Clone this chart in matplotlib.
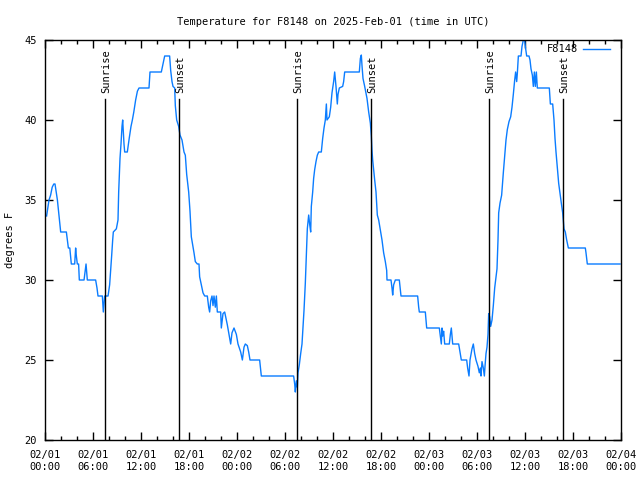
import matplotlib
matplotlib.use("Agg")
import matplotlib.pyplot as plt
from matplotlib.ticker import MultipleLocator, FixedLocator

plt.rcParams['font.family'] = ['DejaVu Sans Mono']

# hours since 2025-02-01 00:00 UTC
hours = [0.2, 0.35, 0.5, 0.7, 0.9, 1.1, 1.25, 1.4, 1.55, 1.75, 1.96, 2.67, 2.8, 2.92, 3.1, 3.29, 3.71, 3.83, 3.92, 4.04,
         4.2, 4.29, 4.88, 5.0, 5.13, 5.29, 6.33, 6.5, 6.625, 7.17, 7.29, 7.38, 7.46, 7.88, 8.08, 8.21, 8.33, 8.46, 8.54, 8.92,
         9.125, 9.21, 9.375, 9.5, 9.625, 9.71, 9.875, 9.96, 10.29, 10.4, 10.54, 10.75, 10.92, 11.1, 11.33, 11.55, 11.75, 13.0, 13.125, 14.54,
         14.75, 14.96, 15.58, 15.71, 15.875, 16.0, 16.21, 16.29, 16.46, 16.71, 16.875, 17.125, 17.375, 17.54, 17.71, 17.96, 18.125, 18.29, 18.46, 18.625,
         18.79, 19.04, 19.25, 19.33, 19.54, 19.75, 19.96, 20.29, 20.46, 20.58, 20.71, 20.875, 21.0, 21.125, 21.29, 21.42, 21.54, 21.96, 22.04, 22.25,
         22.46, 22.67, 22.79, 22.96, 23.21, 23.375, 23.625, 23.92, 24.125, 24.46, 24.67, 24.875, 25.04, 25.29, 25.46, 25.625, 26.83, 27.04, 31.08,
         31.21, 31.29, 31.42, 31.54, 31.625, 31.79, 31.96, 32.125, 32.25, 32.375, 32.54, 32.67, 32.79, 32.96, 33.08, 33.21, 33.29, 33.46, 33.58, 33.71,
         33.875, 34.04, 34.21, 34.54, 34.71, 34.875, 35.04, 35.17, 35.25, 35.54, 35.71, 35.875, 36.08, 36.21, 36.375, 36.54, 36.625, 36.79, 37.21, 37.33,
         37.46, 39.29, 39.42, 39.54, 39.625, 39.75, 39.96, 40.25, 40.46, 40.67, 40.79, 40.875, 40.96, 41.21, 41.375, 41.54, 41.71, 41.92, 42.125, 42.33,
         42.54, 42.71, 42.75, 43.25, 43.375, 43.46, 43.58, 43.79, 44.29, 44.5, 46.58, 46.71, 46.79, 47.54, 47.71, 49.29, 49.42, 49.54, 49.625, 49.71,
         49.83, 49.96, 50.54, 50.67, 50.79, 50.96, 51.71, 51.875, 52.04, 52.71, 52.83, 53.0, 53.125, 53.375, 53.54, 53.71, 53.875, 54.125, 54.29, 54.42,
         54.5, 54.625, 54.79, 54.92, 55.0, 55.125, 55.25, 55.375, 55.46, 55.58, 55.71, 55.875, 56.04, 56.21, 56.375, 56.5, 56.625, 56.71, 56.875,
         57.08, 57.29, 57.46, 57.625, 57.79, 58.0, 58.21, 58.375, 58.54, 58.71, 58.83, 58.96, 59.04, 59.17, 59.5, 59.625, 59.79, 59.92, 60.04, 60.21,
         60.5, 60.625, 60.75, 60.92, 61.04, 61.17, 61.29, 61.42, 61.54, 63.04, 63.17, 63.46, 63.625, 63.75, 63.875, 64.04, 64.21, 64.375, 64.54, 64.71,
         64.875, 65.04, 65.21, 65.42, 67.54, 67.625, 67.79, 71.875]
temps = [34.0, 34.5, 35.0, 35.3, 35.8, 36.0, 36.0, 35.5, 35.0, 34.0, 33.0, 33.0, 32.5, 32.0, 32.0, 31.0, 31.0, 32.0, 31.5, 31.0,
         31.0, 30.0, 30.0, 30.5, 31.0, 30.0, 30.0, 29.5, 29.0, 29.0, 28.0, 28.5, 29.0, 29.0, 29.7, 30.6, 31.5, 32.5, 33.0, 33.2,
         33.75, 35.5, 37.6, 38.5, 39.6, 40.0, 38.5, 38.0, 38.0, 38.4, 38.9, 39.6, 40.0, 40.5, 41.25, 41.8, 42.0, 42.0, 43.0, 43.0,
         43.5, 44.0, 44.0, 43.1, 42.4, 42.1, 42.0, 40.9, 40.0, 39.6, 39.06, 38.75, 38.0, 37.8, 36.6, 35.5, 34.3, 32.7, 32.2, 31.7,
         31.15, 31.0, 31.0, 30.2, 29.7, 29.2, 29.0, 29.0, 28.3, 28.0, 28.7, 29.0, 28.4, 29.0, 28.3, 29.0, 28.0, 28.0, 27.0, 27.9,
         28.0, 27.5, 27.2, 26.7, 26.0, 26.7, 27.0, 26.6, 26.0, 25.5, 25.0, 25.8, 26.0, 25.9, 25.5, 25.0, 25.0, 24.0, 24.0,
         23.5, 23.0, 23.7, 23.3, 24.2, 24.7, 25.4, 26.0, 27.1, 28.1, 29.8, 31.5, 33.2, 34.06, 33.5, 33.0, 34.6, 35.5, 36.35, 36.9,
         37.4, 37.8, 38.0, 38.0, 38.85, 39.5, 40.0, 41.0, 40.0, 40.2, 40.8, 41.7, 42.4, 43.0, 42.1, 41.0, 41.6, 42.0, 42.1, 42.4,
         43.0, 43.0, 43.85, 44.06, 43.4, 42.6, 42.1, 41.35, 40.5, 39.8, 39.0, 38.1, 37.5, 36.25, 35.5, 34.06, 33.75, 33.1, 32.5, 31.7,
         31.15, 30.6, 30.0, 30.0, 29.5, 29.06, 29.7, 30.0, 30.0, 29.0, 29.0, 28.3, 28.0, 28.0, 27.0, 27.0, 26.5, 26.0, 27.0, 26.5,
         26.8, 26.0, 26.0, 26.6, 27.0, 26.0, 26.0, 25.5, 25.0, 25.0, 24.5, 24.0, 25.0, 25.7, 26.0, 25.4, 25.0, 24.6, 24.2, 24.5,
         24.0, 24.9, 24.5, 24.0, 24.6, 25.4, 25.8, 26.6, 27.9, 27.7, 27.1, 27.5, 28.4, 29.5, 30.2, 30.7, 32.5, 34.2, 34.8,
         35.3, 36.7, 37.7, 38.75, 39.4, 39.9, 40.2, 40.8, 41.6, 42.5, 43.0, 42.4, 42.9, 44.0, 44.0, 44.6, 45.0, 45.1, 44.6, 44.0,
         44.0, 43.75, 43.2, 42.8, 42.1, 43.0, 42.1, 43.0, 42.0, 42.0, 41.0, 41.0, 40.0, 38.85, 38.0, 37.0, 36.04, 35.4, 34.8, 34.2,
         33.2, 33.0, 32.5, 32.0, 32.0, 31.7, 31.0, 31.0]

sunrise_hours = [7.53, 31.52, 55.5]
sunset_hours = [16.78, 40.8, 64.8]

xtick_hours = [0, 6, 12, 18, 24, 30, 36, 42, 48, 54, 60, 66, 72]
xtick_labels = ['02/01\n00:00', '02/01\n06:00', '02/01\n12:00', '02/01\n18:00',
                '02/02\n00:00', '02/02\n06:00', '02/02\n12:00', '02/02\n18:00',
                '02/03\n00:00', '02/03\n06:00', '02/03\n12:00', '02/03\n18:00',
                '02/04\n00:00']
ytick_values = [20, 25, 30, 35, 40, 45]

FS = 7.5
fig = plt.figure(figsize=(6.4, 4.8), dpi=100)
ax = fig.add_axes([45/640, 40/480, 576/640, 400/480])

line_color = '#0a7cff'
ax.plot(hours, temps, color=line_color, lw=1.0, label='F8148')

for h in sunrise_hours:
    ax.plot([h, h], [20, 41.3], color='black', lw=1.0)
    ax.text(h + 0.15, 41.7, 'Sunrise', rotation=90, ha='center', va='bottom', fontsize=FS)
for h in sunset_hours:
    ax.plot([h, h], [20, 41.3], color='black', lw=1.0)
    ax.text(h + 0.15, 41.7, 'Sunset', rotation=90, ha='center', va='bottom', fontsize=FS)

ax.set_xlim(0, 72)
ax.set_ylim(20, 45)
ax.xaxis.set_major_locator(FixedLocator(xtick_hours))
ax.set_xticklabels(xtick_labels, fontsize=FS, linespacing=1.25)
ax.xaxis.set_minor_locator(MultipleLocator(2))
ax.set_yticks(ytick_values)
ax.set_yticklabels([str(v) for v in ytick_values], fontsize=FS)
ax.tick_params(which='both', direction='in', top=True, right=True, color='black', width=1)
ax.tick_params(which='major', length=6)
ax.tick_params(which='minor', length=3)
ax.tick_params(axis='x', which='major', pad=7)
ax.tick_params(axis='y', which='major', pad=6)
for s in ax.spines.values():
    s.set_linewidth(1.0)
    s.set_color('black')

ax.set_ylabel('degrees F', fontsize=FS)
ax.yaxis.set_label_coords(-30/576, 0.5)
ax.set_title('Temperature for F8148 on 2025-Feb-01 (time in UTC)', fontsize=FS, pad=11)

leg = ax.legend(loc='upper right', bbox_to_anchor=(0.988, 1.0), frameon=False, fontsize=FS,
                markerfirst=False, handlelength=2.6, borderaxespad=0.0, handletextpad=0.45)

fig.savefig('out.png', dpi=100)
